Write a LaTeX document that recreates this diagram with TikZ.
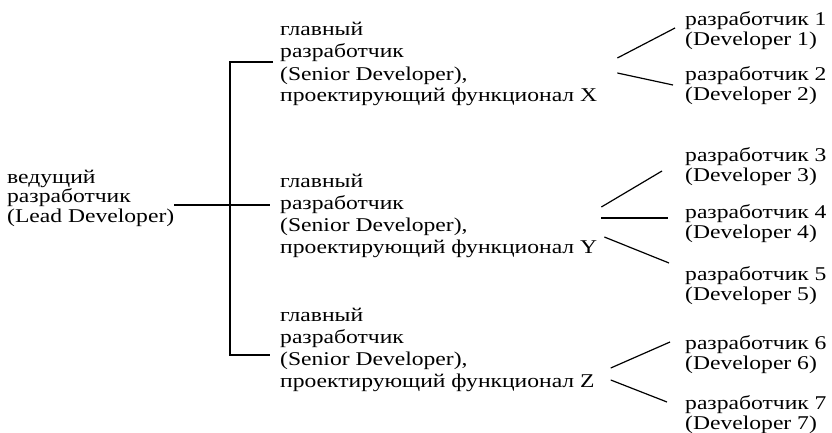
\documentclass[tikz,border=0pt]{standalone}
\usepackage{fontspec}
\setmainfont{Liberation Serif}[FakeStretch=1.21]
\usetikzlibrary{positioning}

\begin{document}
\begin{tikzpicture}[x=1pt,y=1pt,
    lbl/.style={inner sep=0pt, align=left, anchor=base west, font=\fontsize{19.5}{22}\selectfont},
    dev/.style={lbl, font=\fontsize{19.5}{20}\selectfont},
    link/.style={line width=1.2pt}]
    \useasboundingbox (0,0) rectangle (832,-433);

    % lead developer
    \node[lbl, font=\fontsize{19.5}{19.5}\selectfont] (lead) at (7,-222) {ведущий\\разработчик\\(Lead Developer)};

    % senior developers
    \node[lbl] (sX) at (280,-102) {главный\\разработчик\\(Senior Developer),\\проектирующий функционал X};
    \node[lbl] (sY) at (280,-253) {главный\\разработчик\\(Senior Developer),\\проектирующий функционал Y};
    \node[lbl] (sZ) at (280,-387) {главный\\разработчик\\(Senior Developer),\\проектирующий функционал Z};

    % developers
    \node[dev] (d1) at (685,-46) {разработчик 1\\(Developer 1)};
    \node[dev] (d2) at (685,-101) {разработчик 2\\(Developer 2)};
    \node[dev] (d3) at (685,-181) {разработчик 3\\(Developer 3)};
    \node[dev] (d4) at (685,-238) {разработчик 4\\(Developer 4)};
    \node[dev] (d5) at (685,-300) {разработчик 5\\(Developer 5)};
    \node[dev] (d6) at (685,-369) {разработчик 6\\(Developer 6)};
    \node[dev] (d7) at (685,-429) {разработчик 7\\(Developer 7)};

    % lead -> bracket
    \draw[link] ([yshift=17pt]lead.base east) -- ([xshift=-10pt,yshift=48pt]sY.base west);
    \draw[link] ([xshift=-7pt,yshift=40pt]sX.base west) -- ++(-43,0)
        |- ([xshift=-10pt,yshift=32pt]sZ.base west);

    % senior -> developers
    \draw[link] ([shift={(20,44)}]sX.base east) -- ([shift={(-10,18)}]d1.base west);
    \draw[link] ([shift={(20,29)}]sX.base east) -- ([shift={(-12,16)}]d2.base west);
    \draw[link] ([shift={(4,46)}]sY.base east) -- ([shift={(-23,10)}]d3.base west);
    \draw[link] ([shift={(4,35)}]sY.base east) -- ([shift={(-17,20)}]d4.base west);
    \draw[link] ([shift={(7,16)}]sY.base east) -- ([shift={(-16,37)}]d5.base west);
    \draw[link] ([shift={(16,19)}]sZ.base east) -- ([shift={(-15,27)}]d6.base west);
    \draw[link] ([shift={(16,7)}]sZ.base east) -- ([shift={(-18,27)}]d7.base west);
\end{tikzpicture}
\end{document}
